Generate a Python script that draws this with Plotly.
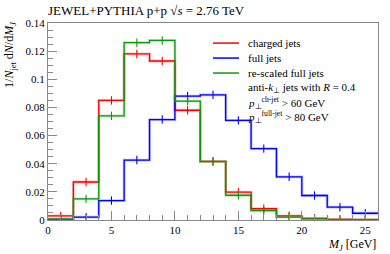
import plotly.graph_objects as go

bin_edges = [0, 2, 4, 6, 8, 10, 12, 14, 16, 18, 20, 22, 24, 26]
charged = [0.0029, 0.027, 0.085, 0.118, 0.113, 0.078, 0.0417, 0.0198, 0.008, 0.003, 0.0012, 0.0004, 0.0002]
full = [0.0005, 0.002, 0.0138, 0.0426, 0.0714, 0.088, 0.0889, 0.0708, 0.0507, 0.0307, 0.0174, 0.0091, 0.0048]
rescaled = [0.0006, 0.015, 0.074, 0.126, 0.1276, 0.0845, 0.0415, 0.0176, 0.0066, 0.0021, 0.0008, 0.0003, 0.0002]

series = [
    ("charged jets", charged, "#ff0000", "rgba(255,0,0,0.25)"),
    ("full jets", full, "#0000ff", "rgba(0,0,255,0.25)"),
    ("re-scaled full jets", rescaled, "#0a9a0a", "rgba(10,154,10,0.25)"),
]

FONT = "Liberation Serif"
fig = go.Figure()
for name, vals, col, halo in series:
    xs = bin_edges
    ys = list(vals) + [vals[-1]]
    fig.add_trace(go.Scatter(x=xs, y=ys, mode="lines", line=dict(color=halo, width=2.8, shape="hv"),
                             showlegend=False, hoverinfo="skip"))
    fig.add_trace(go.Scatter(x=xs, y=ys, mode="lines", line=dict(color=col, width=1.3, shape="hv"),
                             name=name, showlegend=False))
    centers = [(bin_edges[i] + bin_edges[i + 1]) / 2 for i in range(len(vals))]
    fig.add_trace(go.Scatter(x=centers, y=vals, mode="markers",
                             marker=dict(symbol="line-ns", size=6, line=dict(color=col, width=1.1)),
                             showlegend=False, hoverinfo="skip"))

fig.update_layout(
    width=390, height=254,
    margin=dict(l=48, r=12, t=23, b=34),
    paper_bgcolor="white", plot_bgcolor="white",
    font=dict(family=FONT, size=11, color="black"),
    showlegend=False,
    xaxis=dict(range=[0, 26], showgrid=False, zeroline=False, showline=True, linecolor="#888",
               linewidth=1, mirror=True, ticks="inside", ticklen=9, tickcolor="#888",
               tickvals=[0, 5, 10, 15, 20, 25], tickfont=dict(family=FONT, size=11),
               minor=dict(ticks="inside", ticklen=5, tickcolor="#888", dtick=1, showgrid=False)),
    yaxis=dict(range=[0, 0.14], showgrid=False, zeroline=False, showline=True, linecolor="#888",
               linewidth=1, mirror=True, ticks="inside", ticklen=9, tickcolor="#888",
               tickvals=[0, 0.02, 0.04, 0.06, 0.08, 0.1, 0.12, 0.14],
               ticktext=["0", "0.02", "0.04", "0.06", "0.08", "0.1", "0.12", "0.14"],
               tickfont=dict(family=FONT, size=11),
               minor=dict(ticks="inside", ticklen=5, tickcolor="#888", dtick=0.005, showgrid=False)),
)

# manual legend (compact rows as in reference)
legend_rows = [0.898, 0.822, 0.746]
for (name, vals, col, halo), yy in zip(series, legend_rows):
    fig.add_shape(type="line", xref="paper", yref="paper", x0=0.5, x1=0.579, y0=yy, y1=yy,
                  line=dict(color=col, width=1.5))
    fig.add_annotation(x=0.6, y=yy, xref="paper", yref="paper", xanchor="left", yanchor="middle",
                       text=name, showarrow=False, font=dict(family=FONT, size=11))

fig.add_annotation(x=0, y=1.0, xref="paper", yref="paper", xanchor="left", yanchor="bottom",
                   text="JEWEL+PYTHIA p+p √<i>s</i> = 2.76 TeV", showarrow=False,
                   font=dict(family=FONT, size=13), yshift=3, xshift=-2)
fig.add_annotation(x=1, y=0, xref="paper", yref="paper", xanchor="right", yanchor="top",
                   text="<i>M</i><sub><i>J</i></sub> [GeV]", showarrow=False,
                   font=dict(family=FONT, size=12), yshift=-15)
fig.add_annotation(x=0, y=0.838, xref="paper", yref="paper", xanchor="center", yanchor="middle",
                   text="1/<i>N</i><sub>jet</sub> d<i>N</i>/d<i>M</i><sub><i>J</i></sub>", showarrow=False,
                   textangle=-90, font=dict(family=FONT, size=12), xshift=-38)
info = [
    ("anti-<i>k</i><sub>⊥</sub> jets with <i>R</i> = 0.4", 0.670),
    ("<i>p</i><sub>⊥</sub><sup>ch-jet</sup> > 60 GeV", 0.594),
    ("<i>p</i><sub>⊥</sub><sup>full-jet</sup> > 80 GeV", 0.523),
]
for txt, yy in info:
    fig.add_annotation(x=0.6, y=yy, xref="paper", yref="paper", xanchor="left", yanchor="middle",
                       text=txt, showarrow=False, font=dict(family=FONT, size=11))

fig.write_html("out.html", config={"displayModeBar": False},
               post_script="document.body.style.margin='0';")
